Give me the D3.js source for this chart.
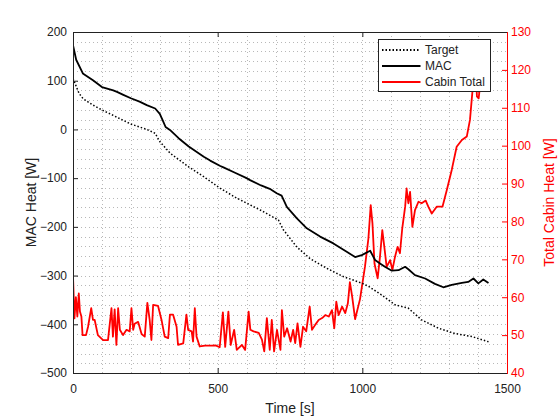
<!DOCTYPE html>
<html lang="en">
<head>
  <meta charset="UTF-8">
  <title>MAC Heat vs Cabin Heat</title>
  <script src="https://d3js.org/d3.v7.min.js"></script>
  <style>
    body {
      margin: 0;
      background-color: #ffffff;
      overflow: hidden;
    }

    svg text {
      font-family: "Liberation Sans", Arial, sans-serif;
    }

    .grid line {
      stroke: #b8b8b8;
      stroke-width: 1px;
      stroke-dasharray: 1, 3;
    }
  </style>
</head>
<body>
  <svg id="chart" width="560" height="420"></svg>

  <script>
    // time axis for each series [s]
    const tMac = [0, 11, 34, 69, 100, 139, 152, 174, 200, 230, 255, 284, 300, 312, 320, 335, 365, 400, 452, 474, 509, 520, 560, 600, 612, 650, 680, 704, 721, 739, 773, 808, 854, 900, 946, 975, 998, 1027, 1044, 1061, 1078, 1102, 1125, 1148, 1159, 1182, 1217, 1251, 1280, 1309, 1344, 1366, 1384, 1401, 1418, 1436];
    const macHeat = [173, 143, 115, 101, 87, 80, 77, 71, 64, 57, 50, 43, 32, 16, 5, -1, -18, -35, -56, -64, -75, -78, -89, -100, -104, -115, -122, -131, -136, -159, -182, -203, -220, -234, -251, -262, -258, -249, -268, -275, -282, -290, -289, -282, -287, -299, -306, -317, -324, -319, -315, -313, -306, -316, -308, -315];

    const tTarget = [0, 10, 21, 35, 69, 100, 152, 200, 255, 284, 300, 336, 400, 452, 509, 566, 646, 710, 727, 773, 819, 877, 934, 1000, 1021, 1067, 1113, 1159, 1205, 1263, 1320, 1378, 1436];
    const targetHeat = [105, 90, 74, 63, 50, 40, 25, 11, 0, -8, -25, -49, -77, -97, -121, -141, -165, -186, -206, -241, -265, -285, -302, -316, -322, -340, -360, -367, -391, -408, -419, -425, -436];

    const tCabin = [0, 5, 10, 15, 20, 24, 29, 33, 45, 52, 63, 69, 75, 86, 104, 121, 133, 138, 144, 150, 156, 162, 173, 185, 196, 202, 208, 213, 225, 237, 248, 257, 265, 271, 277, 294, 306, 317, 329, 335, 346, 358, 363, 381, 392, 398, 410, 415, 421, 427, 438, 456, 480, 493, 507, 518, 526, 537, 545, 557, 566, 584, 595, 607, 613, 624, 642, 653, 661, 670, 680, 687, 695, 705, 717, 722, 730, 740, 752, 761, 768, 776, 786, 795, 806, 818, 826, 837, 849, 861, 872, 884, 895, 903, 910, 918, 930, 941, 950, 957, 965, 975, 992, 1009, 1021, 1029, 1035, 1042, 1053, 1061, 1069, 1076, 1084, 1096, 1104, 1113, 1122, 1130, 1138, 1148, 1153, 1159, 1165, 1173, 1182, 1194, 1205, 1219, 1228, 1240, 1257, 1277, 1292, 1309, 1326, 1344, 1361, 1372, 1378, 1384, 1392, 1396, 1402, 1410];
    const cabinHeat = [65.6, 54.4, 60, 54.9, 61, 56.2, 54.9, 50, 50, 52.2, 57.1, 54, 54, 50, 48.7, 48.7, 57.1, 49.6, 56.8, 47.4, 57.1, 51.4, 50, 51.4, 51, 57.1, 51.4, 53, 53.5, 50.3, 49.6, 58.5, 54, 48.7, 58, 57.7, 54, 49.6, 49.2, 55.4, 55.4, 52.2, 47.4, 47.8, 55.4, 51.4, 51, 48.3, 57.1, 49.6, 47, 47.2, 47.2, 47.3, 46.8, 56, 46.9, 56.2, 47.4, 51.4, 46.1, 47.4, 46.1, 56.2, 51.4, 51, 50.6, 48.8, 45.7, 54.5, 46.1, 54, 45.7, 51.4, 46.1, 56.6, 49.6, 51.8, 48.3, 51.4, 47.9, 53.1, 46.9, 52.2, 51, 57.5, 51.4, 52.7, 54, 54.5, 55.3, 54.9, 56.6, 51.8, 58.8, 55.3, 57.5, 55.8, 58.4, 64, 60.1, 54.2, 59.5, 68, 75.5, 84.3, 79.5, 68.9, 65, 70.7, 77.7, 73.3, 68, 69.8, 67.2, 70.7, 73.3, 71.6, 78.2, 83.9, 88.7, 84.8, 87.8, 78.6, 83, 85.2, 84.8, 85.5, 83.9, 82.1, 83.9, 83.9, 88.3, 93.6, 99.7, 101.5, 102.4, 106.8, 112.1, 117.3, 121, 113, 112.5, 118];

    // ticks
    const xTicks = [0, 500, 1000, 1500];
    const yLeftTicks = [-500, -400, -300, -200, -100, 0, 100, 200];
    const yRightTicks = [40, 50, 60, 70, 80, 90, 100, 110, 120, 130];
    const xGrid = d3.range(0, 1501, 100);
    const yGrid = d3.range(-500, 201, 20);

    const legendItems = ["Target", "MAC", "Cabin Total"];

    const margin = { left: 73, right: 507, top: 32, bottom: 373 };
    const svg = d3.select("#chart");

    const x = d3.scaleLinear().domain([0, 1500]).range([margin.left, margin.right]);
    const yL = d3.scaleLinear().domain([-500, 200]).range([margin.bottom, margin.top]);
    const yR = d3.scaleLinear().domain([40, 130]).range([margin.bottom, margin.top]);

    svg.append("clipPath").attr("id", "plot-clip")
       .append("rect")
       .attr("x", margin.left).attr("y", margin.top)
       .attr("width", margin.right - margin.left)
       .attr("height", margin.bottom - margin.top);

    // dotted grid
    const grid = svg.append("g").attr("class", "grid");
    grid.selectAll("line.gx").data(xGrid).enter().append("line")
        .attr("x1", d => Math.round(x(d)) + 0.5).attr("x2", d => Math.round(x(d)) + 0.5)
        .attr("y1", margin.top).attr("y2", margin.bottom);
    grid.selectAll("line.gy").data(yGrid).enter().append("line")
        .attr("y1", d => Math.round(yL(d)) + 0.5).attr("y2", d => Math.round(yL(d)) + 0.5)
        .attr("x1", margin.left).attr("x2", margin.right);

    // lines
    const plot = svg.append("g").attr("clip-path", "url(#plot-clip)");

    const lineL = d3.line().x(d => x(d[0])).y(d => yL(d[1]));
    const lineR = d3.line().x(d => x(d[0])).y(d => yR(d[1]));

    plot.append("path")
        .datum(d3.zip(tCabin, cabinHeat))
        .attr("d", lineR)
        .attr("fill", "none")
        .attr("stroke", "#ff0000")
        .attr("stroke-width", 1.8)
        .attr("stroke-linejoin", "round");

    plot.append("path")
        .datum(d3.zip(tTarget, targetHeat))
        .attr("d", lineL)
        .attr("fill", "none")
        .attr("stroke", "#000000")
        .attr("stroke-width", 1.5)
        .attr("stroke-dasharray", "1.5,2");

    plot.append("path")
        .datum(d3.zip(tMac, macHeat))
        .attr("d", lineL)
        .attr("fill", "none")
        .attr("stroke", "#000000")
        .attr("stroke-width", 1.8)
        .attr("stroke-linejoin", "round");

    // axes
    const styleAxis = (g, color) => {
      g.select(".domain").remove();
      g.selectAll("line").attr("stroke", color);
      g.selectAll("text").attr("fill", color).style("font-size", "12px");
    };

    const fmt = d3.format("d");

    svg.append("g")
       .attr("transform", `translate(0,${margin.bottom})`)
       .call(d3.axisBottom(x).tickValues(xTicks).tickFormat(fmt).tickSizeInner(-5).tickSizeOuter(0).tickPadding(11))
       .call(g => styleAxis(g, "#222"))
       .attr("font-family", null);

    svg.append("g")
       .attr("transform", `translate(0,${margin.top})`)
       .call(d3.axisTop(x).tickValues(xTicks).tickSizeInner(-5).tickSizeOuter(0).tickFormat(""))
       .call(g => styleAxis(g, "#222"));

    svg.append("g")
       .attr("transform", `translate(${margin.left},0)`)
       .call(d3.axisLeft(yL).tickValues(yLeftTicks).tickFormat(fmt).tickSizeInner(-5).tickSizeOuter(0).tickPadding(6))
       .call(g => styleAxis(g, "#222"))
       .attr("font-family", null);

    svg.append("g")
       .attr("transform", `translate(${margin.right},0)`)
       .call(d3.axisRight(yR).tickValues(yRightTicks).tickFormat(fmt).tickSizeInner(-5).tickSizeOuter(0).tickPadding(4))
       .call(g => styleAxis(g, "#ff0000"))
       .attr("font-family", null);

    // frame
    const frame = svg.append("g").attr("fill", "none").attr("stroke-width", 1);
    frame.append("path")
         .attr("d", `M${margin.right},${margin.top + 0.5}H${margin.left + 0.5}V${margin.bottom + 0.5}H${margin.right}`)
         .attr("stroke", "#222");
    frame.append("line")
         .attr("x1", margin.right + 0.5).attr("x2", margin.right + 0.5)
         .attr("y1", margin.top).attr("y2", margin.bottom + 1)
         .attr("stroke", "#ff0000");

    // axis labels
    svg.append("text")
       .attr("x", (margin.left + margin.right) / 2)
       .attr("y", 413)
       .attr("text-anchor", "middle")
       .style("font-size", "14px")
       .attr("fill", "#222")
       .text("Time [s]");

    svg.append("text")
       .attr("transform", `translate(36,${(margin.top + margin.bottom) / 2}) rotate(-90)`)
       .attr("text-anchor", "middle")
       .style("font-size", "14px")
       .attr("fill", "#222")
       .text("MAC Heat [W]");

    svg.append("text")
       .attr("transform", `translate(554,${(margin.top + margin.bottom) / 2}) rotate(-90)`)
       .attr("text-anchor", "middle")
       .style("font-size", "14px")
       .attr("fill", "#ff0000")
       .text("Total Cabin Heat [W]");

    // legend
    const legend = svg.append("g").attr("transform", "translate(378.5,39.5)");
    legend.append("rect")
          .attr("width", 112).attr("height", 52)
          .attr("fill", "#ffffff").attr("stroke", "#222").attr("stroke-width", 1);

    const legendStyles = [
      { color: "#000000", dash: "1.5,2" },
      { color: "#000000", dash: null },
      { color: "#ff0000", dash: null }
    ];

    const rows = legend.selectAll("g.item")
                       .data(legendItems)
                       .enter()
                       .append("g")
                       .attr("class", "item")
                       .attr("transform", (d, i) => `translate(0,${10.5 + i * 16})`);

    rows.append("line")
        .attr("x1", 3.5).attr("x2", 42)
        .attr("stroke", (d, i) => legendStyles[i].color)
        .attr("stroke-width", 1.8)
        .attr("stroke-dasharray", (d, i) => legendStyles[i].dash);

    rows.append("text")
        .attr("x", 46.5)
        .attr("dy", "0.36em")
        .style("font-size", "12px")
        .attr("fill", "#222")
        .text(d => d);
  </script>
</body>
</html>
